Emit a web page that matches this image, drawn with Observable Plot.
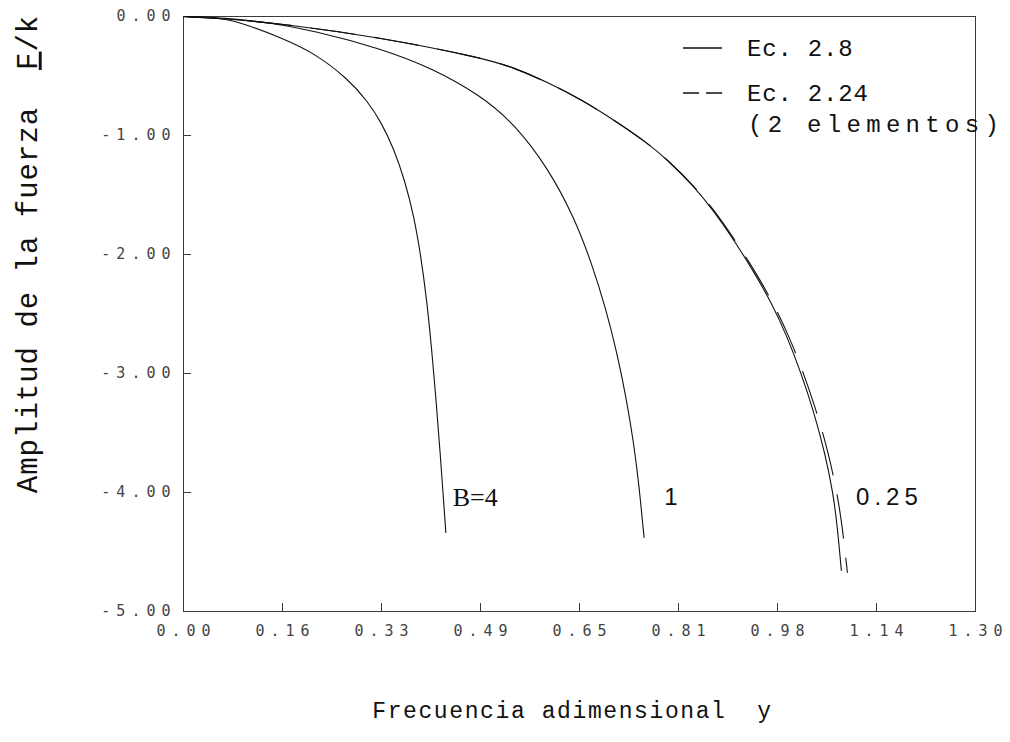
<!DOCTYPE html>
<html>
<head>
<meta charset="utf-8">
<script src="https://cdn.jsdelivr.net/npm/d3@7"></script>
<script src="https://cdn.jsdelivr.net/npm/@observablehq/plot@0.6"></script>
<style>
  body { margin: 0; background: #fff; }
  svg text { white-space: pre; }
</style>
</head>
<body>
<div id="chart"></div>
<script>
// ---- data ----
const xTickValues = [0, 0.1625, 0.325, 0.4875, 0.65, 0.8125, 0.975, 1.1375, 1.3];
const xTickLabels = ["0.00", "0.16", "0.33", "0.49", "0.65", "0.81", "0.98", "1.14", "1.30"];
const yTickValues = [0, -1, -2, -3, -4, -5];
const yTickLabels = ["0.00", "-1.00", "-2.00", "-3.00", "-4.00", "-5.00"];

// Ec. 2.8 (solid), B = 4
const b4X = [0, 0.040, 0.0657, 0.100, 0.1594, 0.2137, 0.2695, 0.3024, 0.3238, 0.3451, 0.3632, 0.3780, 0.3895, 0.3994, 0.4076, 0.4150, 0.4216, 0.4265, 0.4306];
const b4Y = [0, -0.007, -0.017, -0.062, -0.176, -0.303, -0.521, -0.714, -0.882, -1.109, -1.378, -1.672, -2.008, -2.387, -2.807, -3.252, -3.689, -4.042, -4.336];
// Ec. 2.8 (solid), B = 1
const b1X = [0, 0.0657, 0.140, 0.2137, 0.3238, 0.4059, 0.4881, 0.5424, 0.5982, 0.6410, 0.6689, 0.6936, 0.7110, 0.7260, 0.7390, 0.7480, 0.7560];
const b1Y = [0, -0.011, -0.050, -0.118, -0.269, -0.429, -0.664, -0.899, -1.271, -1.686, -2.057, -2.461, -2.817, -3.184, -3.583, -3.952, -4.378];
// Ec. 2.8 (solid), B = 0.25
const b025X = [0, 0.0657, 0.1594, 0.3238, 0.4881, 0.5424, 0.5982, 0.6525, 0.7067, 0.7626, 0.7955, 0.8382, 0.8711, 0.9040, 0.9368, 0.9648, 0.9894, 1.0140, 1.0354, 1.0535, 1.0666, 1.0732, 1.0798];
const b025Y = [0, -0.017, -0.059, -0.176, -0.345, -0.429, -0.555, -0.697, -0.870, -1.067, -1.210, -1.429, -1.639, -1.882, -2.151, -2.403, -2.672, -3.000, -3.336, -3.681, -4.017, -4.286, -4.655];
// Ec. 2.24 (2 elementos), dashed, B = 0.25
const e224X = [0, 0.0657, 0.1594, 0.3238, 0.4881, 0.5424, 0.5982, 0.6525, 0.7067, 0.7626, 0.7955, 0.8390, 0.8727, 0.9056, 0.9393, 0.9673, 0.9927, 1.0181, 1.0403, 1.0593, 1.0732, 1.0814, 1.0897];
const e224Y = [0, -0.017, -0.059, -0.176, -0.345, -0.429, -0.555, -0.697, -0.870, -1.067, -1.210, -1.429, -1.639, -1.882, -2.151, -2.403, -2.672, -3.000, -3.336, -3.681, -4.017, -4.286, -4.672];

const curveLabels = ["B=4", "1", "0.25"];
const curveLabelX = [0.442, 0.789, 1.104];
const curveLabelY = [-4.04, -4.04, -4.04];

const xTitle = "Frecuencia adimensional  y";
const yTitle = "Amplitud de la fuerza  F/k";
const legendLabels = ["Ec. 2.8", "Ec. 2.24", "(2 elementos)"];

// ---- tables ----
const zip = (xs, ys) => xs.map((x, i) => ({x, y: ys[i]}));
const solid = [zip(b4X, b4Y), zip(b1X, b1Y), zip(b025X, b025Y)];
const dashed = zip(e224X, e224Y);
const xTicks = xTickValues.map((v, i) => ({v, label: xTickLabels[i]}));
const yTicks = yTickValues.map((v, i) => ({v, label: yTickLabels[i]}));
const innerX = xTickValues.slice(1, -1);
const innerY = yTickValues.slice(1, -1);
const labels = curveLabels.map((t, i) => ({t, x: curveLabelX[i], y: curveLabelY[i]}));

const mono = "'Liberation Mono', 'DejaVu Sans Mono', monospace";
const tickFont = "'DejaVu Sans Mono', monospace";

const chart = Plot.plot({
  width: 1010,
  height: 742,
  marginLeft: 183,
  marginRight: 35,
  marginTop: 16,
  marginBottom: 131,
  x: {domain: [0, 1.3], axis: null},
  y: {domain: [-5, 0], axis: null},
  style: {background: "#fff"},
  marks: [
    Plot.frame({stroke: "#3a3a3a", strokeWidth: 1}),
    Plot.ruleX(innerX, {x: d => d, insetTop: 587, stroke: "#3a3a3a"}),
    Plot.ruleY(innerY, {y: d => d, insetRight: 784, stroke: "#3a3a3a"}),
    ...solid.map(s => Plot.line(s, {x: "x", y: "y", stroke: "#111", strokeWidth: 1.1, curve: "basis"})),
    Plot.line(dashed, {x: "x", y: "y", stroke: "#111", strokeWidth: 1.1, strokeDasharray: "44,20", curve: "basis"}),
    Plot.text(xTicks, {x: "v", text: "label", frameAnchor: "bottom", dy: 24, dx: 3, textAnchor: "middle",
      fontFamily: tickFont, fontSize: 15, fill: "#444"}),
    Plot.text(yTicks, {y: "v", text: "label", frameAnchor: "left", dx: -7, textAnchor: "end",
      fontFamily: tickFont, fontSize: 15, fill: "#444"}),
    Plot.text([labels[0]], {x: "x", y: "y", text: "t", textAnchor: "start",
      fontFamily: "'Liberation Serif', serif", fontSize: 26, fill: "#111"}),
    Plot.text(labels.slice(1), {x: "x", y: "y", text: "t", textAnchor: "start",
      fontFamily: "'Liberation Sans', sans-serif", fontSize: 24, fill: "#111"}),
    Plot.text([xTitle], {text: d => d, frameAnchor: "bottom", dy: 106, dx: -7, textAnchor: "middle",
      fontFamily: mono, fontSize: 23, fill: "#111"}),
    Plot.text([yTitle], {text: d => d, frameAnchor: "left", dx: -156, dy: -60, rotate: -90, textAnchor: "middle",
      fontFamily: mono, fontSize: 29, fill: "#111"})
  ]
});

document.getElementById("chart").appendChild(chart);

const svg = d3.select(chart);
const spacing = (strings, ls) => svg.selectAll("text")
  .filter(function() { return strings.includes(this.textContent); })
  .attr("letter-spacing", ls);
spacing(xTickLabels.concat(yTickLabels), 6);
spacing(["1", "0.25"], 5);
spacing([xTitle], 1.6);
spacing([yTitle], 1);

// underline F in the y title
svg.selectAll("text").filter(function() { return this.textContent === yTitle; }).each(function() {
  const t = d3.select(this);
  t.text(null);
  t.append("tspan").text("Amplitud de la fuerza  ");
  t.append("tspan").style("text-decoration", "underline").text("F");
  t.append("tspan").text("/k");
});

// legend (inside the frame, top right)
const lg = svg.append("g").attr("fill", "#111").attr("font-family", mono).attr("font-size", 24).attr("text-anchor", "start");
lg.append("line").attr("x1", 683).attr("x2", 722).attr("y1", 48).attr("y2", 48).attr("stroke", "#111").attr("stroke-width", 1.6);
lg.append("line").attr("x1", 683).attr("x2", 722).attr("y1", 93).attr("y2", 93).attr("stroke", "#111").attr("stroke-width", 1.6).attr("stroke-dasharray", "16,7");
lg.append("text").attr("x", 747).attr("y", 48).attr("dy", "0.35em").attr("letter-spacing", 0.8).text(legendLabels[0]);
lg.append("text").attr("x", 747).attr("y", 93).attr("dy", "0.35em").attr("letter-spacing", 0.8).text(legendLabels[1]);
lg.append("text").attr("x", 748).attr("y", 124).attr("dy", "0.35em").attr("letter-spacing", 5.3).text(legendLabels[2]);
</script>
</body>
</html>
